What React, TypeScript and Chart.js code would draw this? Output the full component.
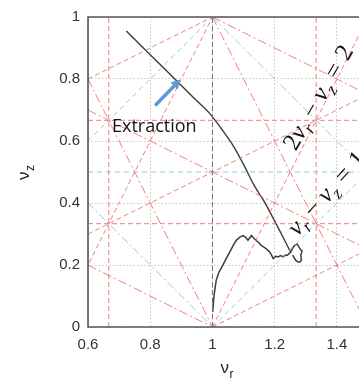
import React, { useEffect, useRef } from "react";
import { Chart, registerables } from "chart.js";
Chart.register(...registerables);

// Axis ticks
const xTicks = [0.6, 0.8, 1, 1.2, 1.4];
const yTicks = [0, 0.2, 0.4, 0.6, 0.8, 1];

// Beam trajectory: extraction branch (nu_r, nu_z)
const extractionNr = [0.723, 0.803, 0.887, 0.942, 0.99, 1.03, 1.062, 1.097, 1.135, 1.168, 1.194, 1.216, 1.252];
const extractionNz = [0.955, 0.875, 0.792, 0.737, 0.69, 0.638, 0.592, 0.53, 0.455, 0.402, 0.353, 0.311, 0.24];

// Beam trajectory: acceleration branch (nu_r, nu_z)
const accelNr = [1.001, 1.003, 1.006, 1.012, 1.02, 1.033, 1.045, 1.055, 1.066, 1.076, 1.088, 1.098, 1.106, 1.114, 1.12, 1.125, 1.133, 1.141, 1.149, 1.157, 1.165, 1.173, 1.184, 1.19, 1.195, 1.203, 1.211, 1.219, 1.227, 1.234, 1.24, 1.251, 1.258, 1.264, 1.272, 1.277, 1.281, 1.288, 1.284, 1.286, 1.281, 1.275, 1.268, 1.264, 1.258];
const accelNz = [0.049, 0.08, 0.108, 0.15, 0.175, 0.199, 0.222, 0.241, 0.262, 0.279, 0.29, 0.295, 0.29, 0.28, 0.288, 0.295, 0.286, 0.279, 0.272, 0.263, 0.258, 0.252, 0.242, 0.232, 0.221, 0.228, 0.226, 0.23, 0.226, 0.232, 0.231, 0.241, 0.255, 0.263, 0.268, 0.26, 0.252, 0.245, 0.232, 0.215, 0.21, 0.21, 0.215, 0.221, 0.232];

// Resonance lines (segments of endpoints in tune space)
type Seg = [[number, number], [number, number]];
const redDashedLines: Seg[] = [
  [[0.6667, 0], [0.6667, 1]],
  [[1.3333, 0], [1.3333, 1]],
  [[0.6, 0.3333], [1.5, 0.3333]],
  [[0.6, 0.6667], [1.5, 0.6667]],
  [[0.5, 0], [1, 1]],
  [[1, 0], [1.5, 1]],
  [[0.6, 0.3], [1.5, 0.75]],
  [[1, 0], [1.5, 0.25]],
  [[0.6, 0.8], [1, 1]],
];
const redDashDotLines: Seg[] = [
  [[0.6, 0.8], [1, 0]],
  [[1, 1], [1.5, 0]],
  [[0.6, 0.2], [1, 0]],
  [[0.6, 0.7], [1.5, 0.25]],
  [[1, 1], [1.5, 0.75]],
];
const blueDashedLines: Seg[] = [
  [[0.6, 0.5], [1.5, 0.5]],
  [[0.6, 0.6], [1, 1]],
  [[1, 0], [1.5, 0.5]],
];
const blueDashDotLines: Seg[] = [
  [[0.6, 0.4], [1, 0]],
  [[1, 1], [1.5, 0.5]],
];
const integerLines: Seg[] = [[[1, 0], [1, 1]]];

const segDataset = (s: Seg, color: string, dash: number[], width = 1) => ({
  type: "line" as const,
  data: [
    { x: s[0][0], y: s[0][1] },
    { x: s[1][0], y: s[1][1] },
  ],
  borderColor: color,
  borderWidth: width,
  borderDash: dash,
  pointRadius: 0,
  fill: false,
  tension: 0,
});

const TICK_FONT = { family: "'Liberation Sans', Arial, sans-serif", size: 15 };

type Part = { t?: string; it?: boolean; sub?: boolean; gap?: number };
function drawMath(ctx: CanvasRenderingContext2D, parts: Part[], x: number, y: number, angle: number, size: number) {
  ctx.save();
  ctx.translate(x, y);
  ctx.rotate(angle);
  ctx.fillStyle = "#151515";
  ctx.textBaseline = "alphabetic";
  ctx.textAlign = "left";
  let cx = 0;
  for (const p of parts) {
    if (p.gap) {
      cx += p.gap * size;
      continue;
    }
    const fs = p.sub ? size * 0.7 : size;
    ctx.font = `${p.it ? "italic " : ""}${fs}px 'Liberation Serif', serif`;
    ctx.fillText(p.t || "", cx, p.sub ? size * 0.22 : 0);
    cx += ctx.measureText(p.t || "").width;
  }
  ctx.restore();
}

const label1: Part[] = [
  { t: "2" }, { t: "ν", it: true }, { t: "r", it: true, sub: true }, { gap: 0.25 }, { t: "−" }, { gap: 0.25 },
  { t: "ν", it: true }, { t: "z", it: true, sub: true }, { gap: 0.3 }, { t: "=" }, { gap: 0.3 }, { t: "2" },
];
const label2: Part[] = [
  { t: "ν", it: true }, { t: "r", it: true, sub: true }, { gap: 0.25 }, { t: "−" }, { gap: 0.25 },
  { t: "ν", it: true }, { t: "z", it: true, sub: true }, { gap: 0.3 }, { t: "=" }, { gap: 0.3 }, { t: "1" },
];

const annotPlugin = {
  id: "annot",
  afterDatasetsDraw(chart: any) {
    const ctx: CanvasRenderingContext2D = chart.ctx;
    const { left, right, top, bottom } = chart.chartArea;
    const xs = chart.scales.x;
    const ys = chart.scales.y;
    // frame
    ctx.save();
    ctx.strokeStyle = "#555";
    ctx.lineWidth = 1.6;
    ctx.beginPath();
    ctx.moveTo(right + 2, top);
    ctx.lineTo(left, top);
    ctx.lineTo(left, bottom);
    ctx.lineTo(right + 2, bottom);
    ctx.stroke();
    ctx.restore();

    // arrow
    const x0 = xs.getPixelForValue(0.819), y0 = ys.getPixelForValue(0.718);
    const x1 = xs.getPixelForValue(0.897), y1 = ys.getPixelForValue(0.798);
    const ang = Math.atan2(y1 - y0, x1 - x0);
    const hl = 9, hw = 5;
    const bx = x1 - hl * Math.cos(ang), by = y1 - hl * Math.sin(ang);
    ctx.save();
    ctx.strokeStyle = "#5b9bd5";
    ctx.fillStyle = "#5b9bd5";
    ctx.lineWidth = 3.5;
    ctx.lineCap = "round";
    ctx.beginPath();
    ctx.moveTo(x0, y0);
    ctx.lineTo(bx, by);
    ctx.stroke();
    ctx.beginPath();
    ctx.moveTo(x1, y1);
    ctx.lineTo(bx + hw * Math.sin(ang), by - hw * Math.cos(ang));
    ctx.lineTo(bx - hw * Math.sin(ang), by + hw * Math.cos(ang));
    ctx.closePath();
    ctx.fill();
    ctx.restore();

    // Extraction text
    ctx.save();
    ctx.fillStyle = "#151515";
    ctx.font = "18px 'Open Sans', sans-serif";
    ctx.textBaseline = "alphabetic";
    ctx.fillText("Extraction", xs.getPixelForValue(0.677), ys.getPixelForValue(0.63));
    ctx.restore();

    // resonance labels
    drawMath(ctx, label1, xs.getPixelForValue(1.268), ys.getPixelForValue(0.565), (-60 * Math.PI) / 180, 25);
    drawMath(ctx, label2, xs.getPixelForValue(1.273), ys.getPixelForValue(0.29), (-48 * Math.PI) / 180, 25);
  },
  afterDraw(chart: any) {
    const ctx: CanvasRenderingContext2D = chart.ctx;
    const { left, right, top, bottom } = chart.chartArea;
    ctx.save();
    ctx.fillStyle = "#222";
    ctx.textBaseline = "alphabetic";
    // x title
    const cx = (left + right) / 2 + 2;
    ctx.font = "17px 'Liberation Sans', Arial, sans-serif";
    ctx.fillText("ν", cx - 5, 373);
    ctx.font = "12px 'Liberation Sans', Arial, sans-serif";
    ctx.fillText("r", cx + 4, 378);
    // y title
    ctx.translate(29, (top + bottom) / 2 + 8);
    ctx.rotate(-Math.PI / 2);
    ctx.font = "17px 'Liberation Sans', Arial, sans-serif";
    ctx.fillText("ν", 0, 0);
    ctx.font = "12px 'Liberation Sans', Arial, sans-serif";
    ctx.fillText("z", 9, 5);
    ctx.restore();
  },
};

export default function App() {
  const ref = useRef<HTMLCanvasElement | null>(null);
  useEffect(() => {
    document.body.style.margin = "0";
    if (!ref.current) return;
    const red = "rgba(240,105,105,0.85)";
    const blue = "rgba(120,195,235,0.85)";
    const datasets: any[] = [
      ...blueDashedLines.map((s) => segDataset(s, blue, [5, 4])),
      ...blueDashDotLines.map((s) => segDataset(s, blue, [8, 3, 2, 3])),
      ...redDashedLines.map((s) => segDataset(s, red, [5, 3])),
      ...redDashDotLines.map((s) => segDataset(s, red, [9, 3, 2, 3])),
      ...integerLines.map((s) => segDataset(s, "#707070", [5, 3])),
      {
        type: "line",
        data: extractionNr.map((x, i) => ({ x, y: extractionNz[i] })),
        borderColor: "#3c3c3c",
        borderWidth: 1.4,
        pointRadius: 0,
        cubicInterpolationMode: "monotone",
      },
      {
        type: "line",
        data: accelNr.map((x, i) => ({ x, y: accelNz[i] })),
        borderColor: "#3c3c3c",
        borderWidth: 1.5,
        pointRadius: 0,
        tension: 0,
      },
    ];
    const chart = new Chart(ref.current, {
      type: "scatter",
      data: { datasets },
      options: {
        animation: false,
        responsive: false,
        maintainAspectRatio: false,
        layout: { padding: { top: 15, left: 0, right: 0, bottom: 0 } },
        plugins: { legend: { display: false }, tooltip: { enabled: false } },
        scales: {
          x: {
            type: "linear",
            min: 0.6,
            max: 1.471,
            afterBuildTicks: (s: any) => {
              s.ticks = xTicks.map((v) => ({ value: v }));
            },
            afterFit: (s: any) => {
              s.height = 53;
            },
            grid: { color: "#c8c8c8", lineWidth: 1, drawTicks: false },
            border: { display: false, dash: [1.5, 2] },
            ticks: { padding: 9, font: TICK_FONT, color: "#333", callback: (v: any) => String(v) },
          },
          y: {
            type: "linear",
            min: 0,
            max: 1,
            afterBuildTicks: (s: any) => {
              s.ticks = yTicks.map((v) => ({ value: v }));
            },
            afterFit: (s: any) => {
              s.width = 88;
            },
            grid: { color: "#c8c8c8", lineWidth: 1, drawTicks: false },
            border: { display: false, dash: [1.5, 2] },
            ticks: { padding: 8, font: TICK_FONT, color: "#333", callback: (v: any) => String(v) },
          },
        },
      },
      plugins: [annotPlugin],
    });
    return () => chart.destroy();
  }, []);
  return (
    <div style={{ width: 359, height: 380, overflow: "hidden" }}>
      <canvas ref={ref} width={359} height={380} style={{ display: "block" }} />
    </div>
  );
}
